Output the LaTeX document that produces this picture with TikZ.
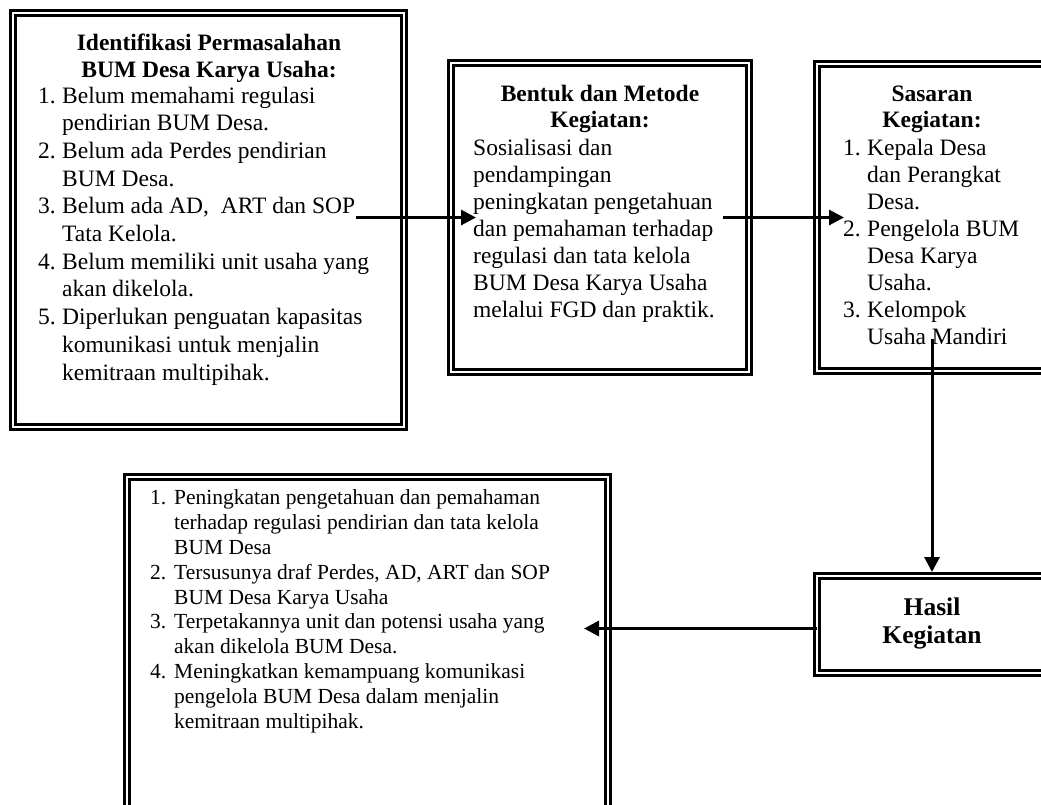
\documentclass[tikz,border=0pt]{standalone}
\usepackage{fontspec}
\setmainfont{Liberation Serif}
\usetikzlibrary{arrows.meta}
\usetikzlibrary{calc}

\tikzset{
  box/.style={draw, double, double distance=2.5pt, line width=2.7pt, inner sep=0pt, outer sep=0pt},
  head/.style={font=\fontsize{23.5}{27}\selectfont\bfseries, align=center, inner sep=0pt, anchor=base},
  body/.style={font=\fontsize{23.5}{27.5}\selectfont, align=left, inner sep=0pt, anchor=base west},
  arr/.style={line width=3pt, -{Triangle[length=15pt,width=15pt]}},
}
\newcommand{\nr}[1]{\makebox[24pt][l]{#1}}
\newcommand{\ind}{\hspace*{24pt}}

\begin{document}
\begin{tikzpicture}[x=1pt, y=-1pt]
  \useasboundingbox (0,0) rectangle (1041,804);
  % kotak
  \node[box, minimum width=391pt, minimum height=414pt] (ident) at (208.5,220) {};
  \node[box, minimum width=298pt, minimum height=309pt] (metode) at (600,217.5) {};
  \node[box, minimum width=230pt, minimum height=307pt] (sasaran) at (932,217.5) {};
  \node[box, minimum width=230pt, minimum height=97pt] (hasil) at (932,624.5) {};
  \node[box, minimum width=481pt, minimum height=338pt] (luaran) at (367.5,646) {};

  % isi kotak (anchor = baris terakhir)
  \node[head] (identjudul) at (209,77) {Identifikasi Permasalahan\\BUM Desa Karya Usaha:};
  \node[body, font=\fontsize{23.5}{27.7}\selectfont] (identisi) at (38,380) {\nr{1.}Belum memahami regulasi\\\ind pendirian BUM Desa.\\\nr{2.}Belum ada Perdes pendirian\\\ind BUM Desa.\\\nr{3.}Belum ada AD,\ \ ART dan SOP\\\ind Tata Kelola.\\\nr{4.}Belum memiliki unit usaha yang\\\ind akan dikelola.\\\nr{5.}Diperlukan penguatan kapasitas\\\ind komunikasi untuk menjalin\\\ind kemitraan multipihak.};

  \node[head, font=\fontsize{23.5}{25.5}\selectfont\bfseries] (metodejudul) at (600,127) {Bentuk dan Metode\\Kegiatan:};
  \node[body, font=\fontsize{23.5}{27}\selectfont] (metodeisi) at (473,317) {Sosialisasi dan\\pendampingan\\peningkatan pengetahuan\\dan pemahaman terhadap\\regulasi dan tata kelola\\BUM Desa Karya Usaha\\melalui FGD dan praktik.};

  \node[head, font=\fontsize{23.5}{25.5}\selectfont\bfseries] (sasaranjudul) at (932,127) {Sasaran\\Kegiatan:};
  \node[body, font=\fontsize{23.5}{27}\selectfont] (sasaranisi) at (843,344) {\nr{1.}Kepala Desa\\\ind dan Perangkat\\\ind Desa.\\\nr{2.}Pengelola BUM\\\ind Desa Karya\\\ind Usaha.\\\nr{3.}Kelompok\\\ind Usaha Mandiri};

  \node[head, font=\fontsize{25.5}{28}\selectfont\bfseries] (hasiljudul) at (932,643) {Hasil\\Kegiatan};

  \node[body, font=\fontsize{21.5}{24.8}\selectfont] (luaranisi) at (150,728) {\nr{1.}Peningkatan pengetahuan dan pemahaman\\\ind terhadap regulasi pendirian dan tata kelola\\\ind BUM Desa\\\nr{2.}Tersusunya draf Perdes, AD, ART dan SOP\\\ind BUM Desa Karya Usaha\\\nr{3.}Terpetakannya unit dan potensi usaha yang\\\ind akan dikelola BUM Desa.\\\nr{4.}Meningkatkan kemampuang komunikasi\\\ind pengelola BUM Desa dalam menjalin\\\ind kemitraan multipihak.};

  % panah
  \draw[arr] ($(ident.east |- metode.west)+(-48,0)$) -- ([xshift=25pt]metode.west);
  \draw[arr] ([xshift=-26pt]metode.east) -- ([xshift=27pt]sasaran.west);
  \draw[arr] ([yshift=32pt]sasaran.south) -- ([yshift=4pt]hasil.north);
  \coordinate (hk) at ([yshift=-4pt]hasil.west);
  \draw[arr] (hk) -- ($(hk -| luaran.east)+(-24,0)$);
\end{tikzpicture}
\end{document}
